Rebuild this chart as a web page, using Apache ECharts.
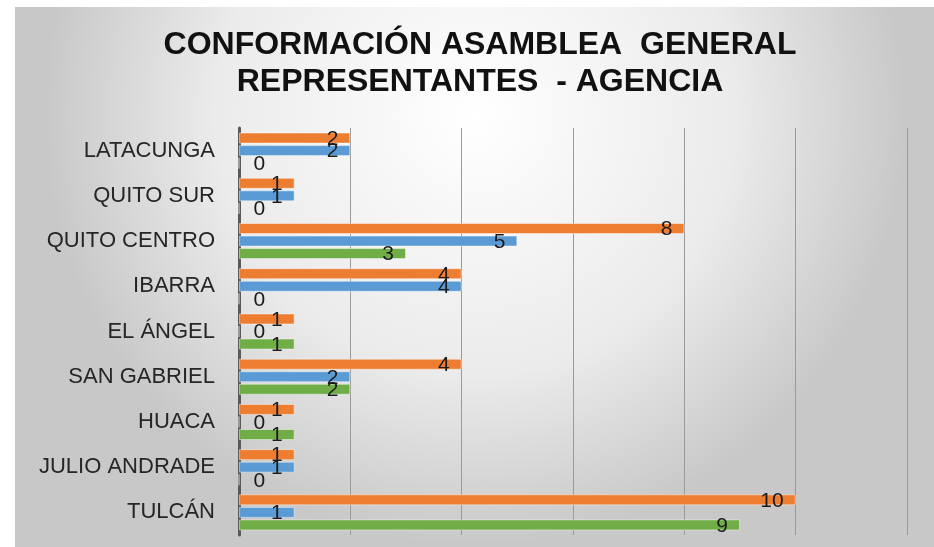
<!DOCTYPE html>
<html>
<head>
<meta charset="utf-8">
<script src="https://cdn.jsdelivr.net/npm/echarts@6/dist/echarts.min.js"></script>
<style>
html,body{margin:0;padding:0;background:#fff;}
#c{width:934px;height:547px;}
</style>
</head>
<body>
<div id="c"></div>
<script>
const categories = ['LATACUNGA','QUITO SUR','QUITO CENTRO','IBARRA','EL ÁNGEL','SAN GABRIEL','HUACA','JULIO ANDRADE','TULCÁN'];
const seriesOrange = [2,1,8,4,1,4,1,1,10];
const seriesBlue   = [2,1,5,4,0,2,0,1,1];
const seriesGreen  = [0,0,3,0,1,2,1,0,9];
const titleLines = ['CONFORMACIÓN ASAMBLEA  GENERAL','REPRESENTANTES  - AGENCIA'];

const FONT = "'Liberation Sans', Arial, sans-serif";
const chart = echarts.init(document.getElementById('c'));

function mk(arr){
  return arr.map(v => v === 0
    ? {value: v, label: {position: 'right', distance: 14}}
    : {value: v});
}
function series(name, arr, color){
  return {
    name: name, type: 'bar', data: mk(arr),
    barWidth: 11, barGap: '14%',
    itemStyle: {color: color, borderColor: 'rgba(255,255,255,0.45)', borderWidth: 1},
    label: {show: true, position: 'insideRight', distance: 12, offset: [0, 1],
            color: '#1a1a1a', fontSize: 21, fontFamily: FONT},
    emphasis: {disabled: true}
  };
}

chart.setOption({
  animation: false,
  graphic: [{
    type: 'rect', z: -10, silent: true,
    shape: {x: 15, y: 7, width: 919, height: 540},
    style: {fill: new echarts.graphic.RadialGradient(0.5, 0.2, 0.8, [
      {offset: 0, color: '#ffffff'},
      {offset: 0.6, color: '#ebebeb'},
      {offset: 1, color: '#c8c8c8'}
    ])}
  }],
  title: {
    text: titleLines.join('\n'),
    left: 475, top: 22, textAlign: 'center',
    textStyle: {fontFamily: FONT, fontWeight: 'bold',
                fontSize: 32, lineHeight: 37, color: '#111'}
  },
  grid: {left: 239, right: 27, top: 128, bottom: 12, containLabel: false},
  xAxis: {
    type: 'value', min: 0, max: 12, interval: 2,
    axisLabel: {show: false}, axisTick: {show: false}, axisLine: {show: false},
    splitLine: {show: true, lineStyle: {color: '#9a9a9a', width: 1}}
  },
  yAxis: {
    type: 'category', data: categories, inverse: true,
    axisTick: {show: false},
    axisLine: {show: true, lineStyle: {color: '#595959', width: 3}},
    axisLabel: {color: '#262626', fontSize: 22, margin: 24, fontFamily: FONT}
  },
  series: [
    series('Serie 1', seriesOrange, '#ED7D31'),
    series('Serie 2', seriesBlue, '#5B9BD5'),
    series('Serie 3', seriesGreen, '#70AD47')
  ]
});
</script>
</body>
</html>
